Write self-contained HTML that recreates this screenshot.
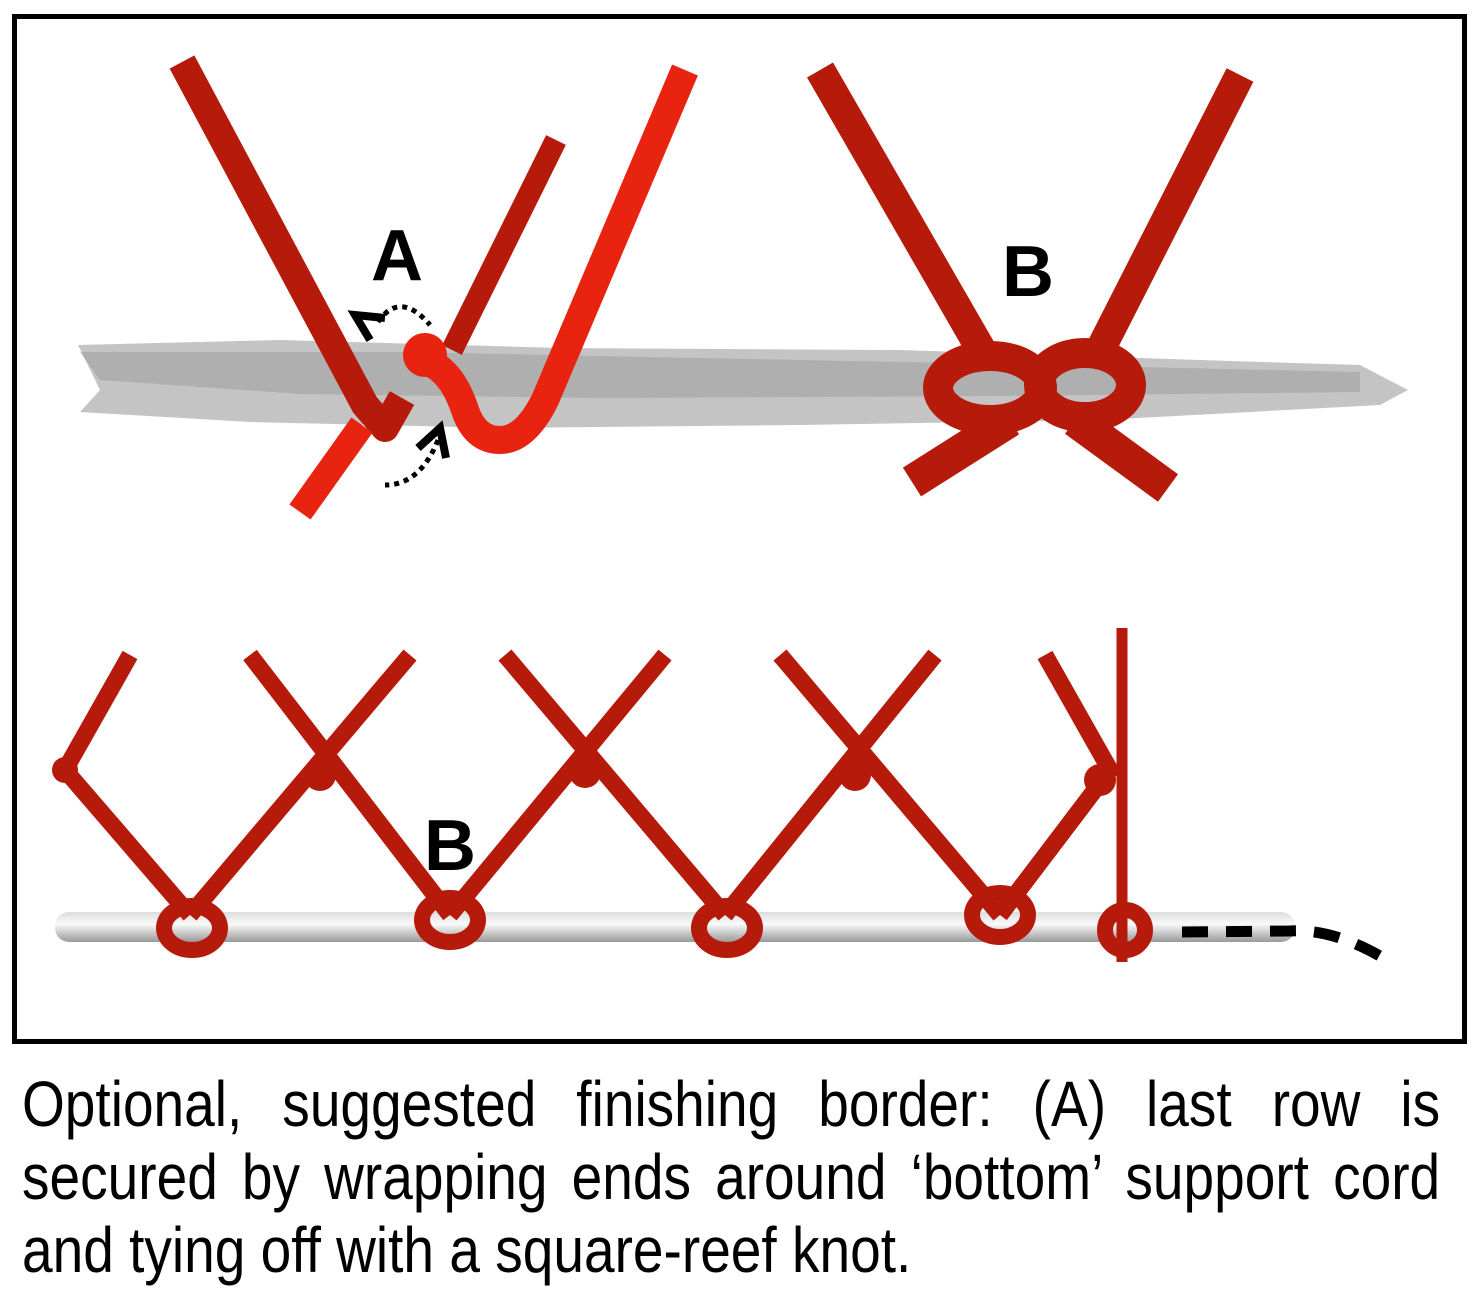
<!DOCTYPE html>
<html><head><style>
body{margin:0;width:1479px;height:1300px;background:#fff;overflow:hidden;position:relative;font-family:"Liberation Sans",sans-serif}
.cap{position:absolute;left:22px;top:1068px;width:1649px;transform:scale(0.86,1);transform-origin:0 0;font-size:64px;line-height:73px;text-align:justify;text-align-last:left;color:#000}
</style></head><body>
<svg width="1479" height="1300" style="position:absolute;left:0;top:0">
<defs>
<linearGradient id="cord" x1="0" y1="0" x2="0" y2="1"><stop offset="0" stop-color="#ddd"/><stop offset="0.4" stop-color="#fafafa"/><stop offset="1" stop-color="#999"/></linearGradient>
</defs>
<rect x="14.5" y="16.5" width="1450" height="1025" fill="none" stroke="#000" stroke-width="5"/>
<path d="M78 345 L280 340 L560 348 L900 350 L1200 360 L1360 365 L1408 390 L1380 405 L1100 420 L800 425 L500 428 L250 422 L80 412 L100 390 Z" fill="#c4c4c4"/>
<path d="M80 352 L400 352 L600 356 L1000 364 L1360 372 L1360 392 L1000 396 L600 398 L300 394 L100 380 Z" fill="#999" opacity="0.5"/>
<g stroke-linecap="butt" fill="none">
<path d="M182 62 L365 405 L385 428 L402 398" stroke="#b51a0a" stroke-width="28" stroke-linejoin="round"/>
<path d="M300 512 L362 425" stroke="#e8230f" stroke-width="26"/>
<path d="M556 140 L452 350" stroke="#b51a0a" stroke-width="22"/>
<path d="M685 70 L545 400 Q525 440 500 440 Q475 440 465 410 Q450 365 420 360" stroke="#e8230f" stroke-width="28" stroke-linejoin="round"/>
<circle cx="425" cy="355" r="22" fill="#e8230f"/>
<path d="M370 340 L355 315 L385 318" stroke="#000" stroke-width="8"/>
<path d="M378 322 Q400 290 430 325" stroke="#000" stroke-width="5" stroke-dasharray="5 5"/>
<path d="M418 448 L440 428 L446 458" stroke="#000" stroke-width="8"/>
<path d="M438 440 Q420 485 385 485" stroke="#000" stroke-width="5" stroke-dasharray="5 5"/>
<path d="M820 70 L990 365 M1240 75 L1095 360" stroke="#b51a0a" stroke-width="30"/>
<ellipse cx="990" cy="388" rx="52" ry="32" stroke="#b51a0a" stroke-width="30"/>
<ellipse cx="1085" cy="385" rx="46" ry="32" stroke="#b51a0a" stroke-width="30"/>
<path d="M912 482 L1010 420 M1168 488 L1075 420" stroke="#b51a0a" stroke-width="34"/>
</g>
<text x="397" y="280" font-size="72" font-weight="bold" text-anchor="middle">A</text>
<text x="1028" y="296" font-size="72" font-weight="bold" text-anchor="middle">B</text>
<text x="450" y="870" font-size="72" font-weight="bold" text-anchor="middle">B</text>
<rect x="55" y="912" width="1240" height="30" rx="14" fill="url(#cord)"/>
<g stroke="#b51a0a" stroke-width="17" fill="none">
<path d="M130 655 L65 770 L190 915"/>
<path d="M250 655 L450 915 M410 655 L190 915"/>
<path d="M505 655 L725 915 M665 655 L450 915"/>
<path d="M780 655 L1000 915 M935 655 L725 915"/>
<path d="M1045 655 L1110 770 L1000 915"/>
<path d="M1122 628 L1122 962" stroke-width="11"/>
</g>
<g fill="#b51a0a">
<circle cx="65" cy="770" r="13"/><circle cx="320" cy="775" r="16"/><circle cx="585" cy="772" r="16"/><circle cx="855" cy="775" r="16"/><circle cx="1100" cy="780" r="16"/>
</g>
<g fill="none" stroke="#b51a0a" stroke-width="16">
<ellipse cx="192" cy="928" rx="28" ry="22"/><ellipse cx="450" cy="920" rx="28" ry="22"/><ellipse cx="727" cy="928" rx="28" ry="22"/><ellipse cx="1000" cy="915" rx="28" ry="22"/><ellipse cx="1125" cy="930" rx="20" ry="20"/>
</g>
<path d="M1182 932 L1290 931 Q1335 928 1390 962" stroke="#000" stroke-width="11" fill="none" stroke-dasharray="26 18"/>
</svg>
<div class="cap">Optional, suggested finishing border: (A) last row is secured by wrapping ends around ‘bottom’ support cord and tying off with a square-reef knot.</div>
</body></html>
